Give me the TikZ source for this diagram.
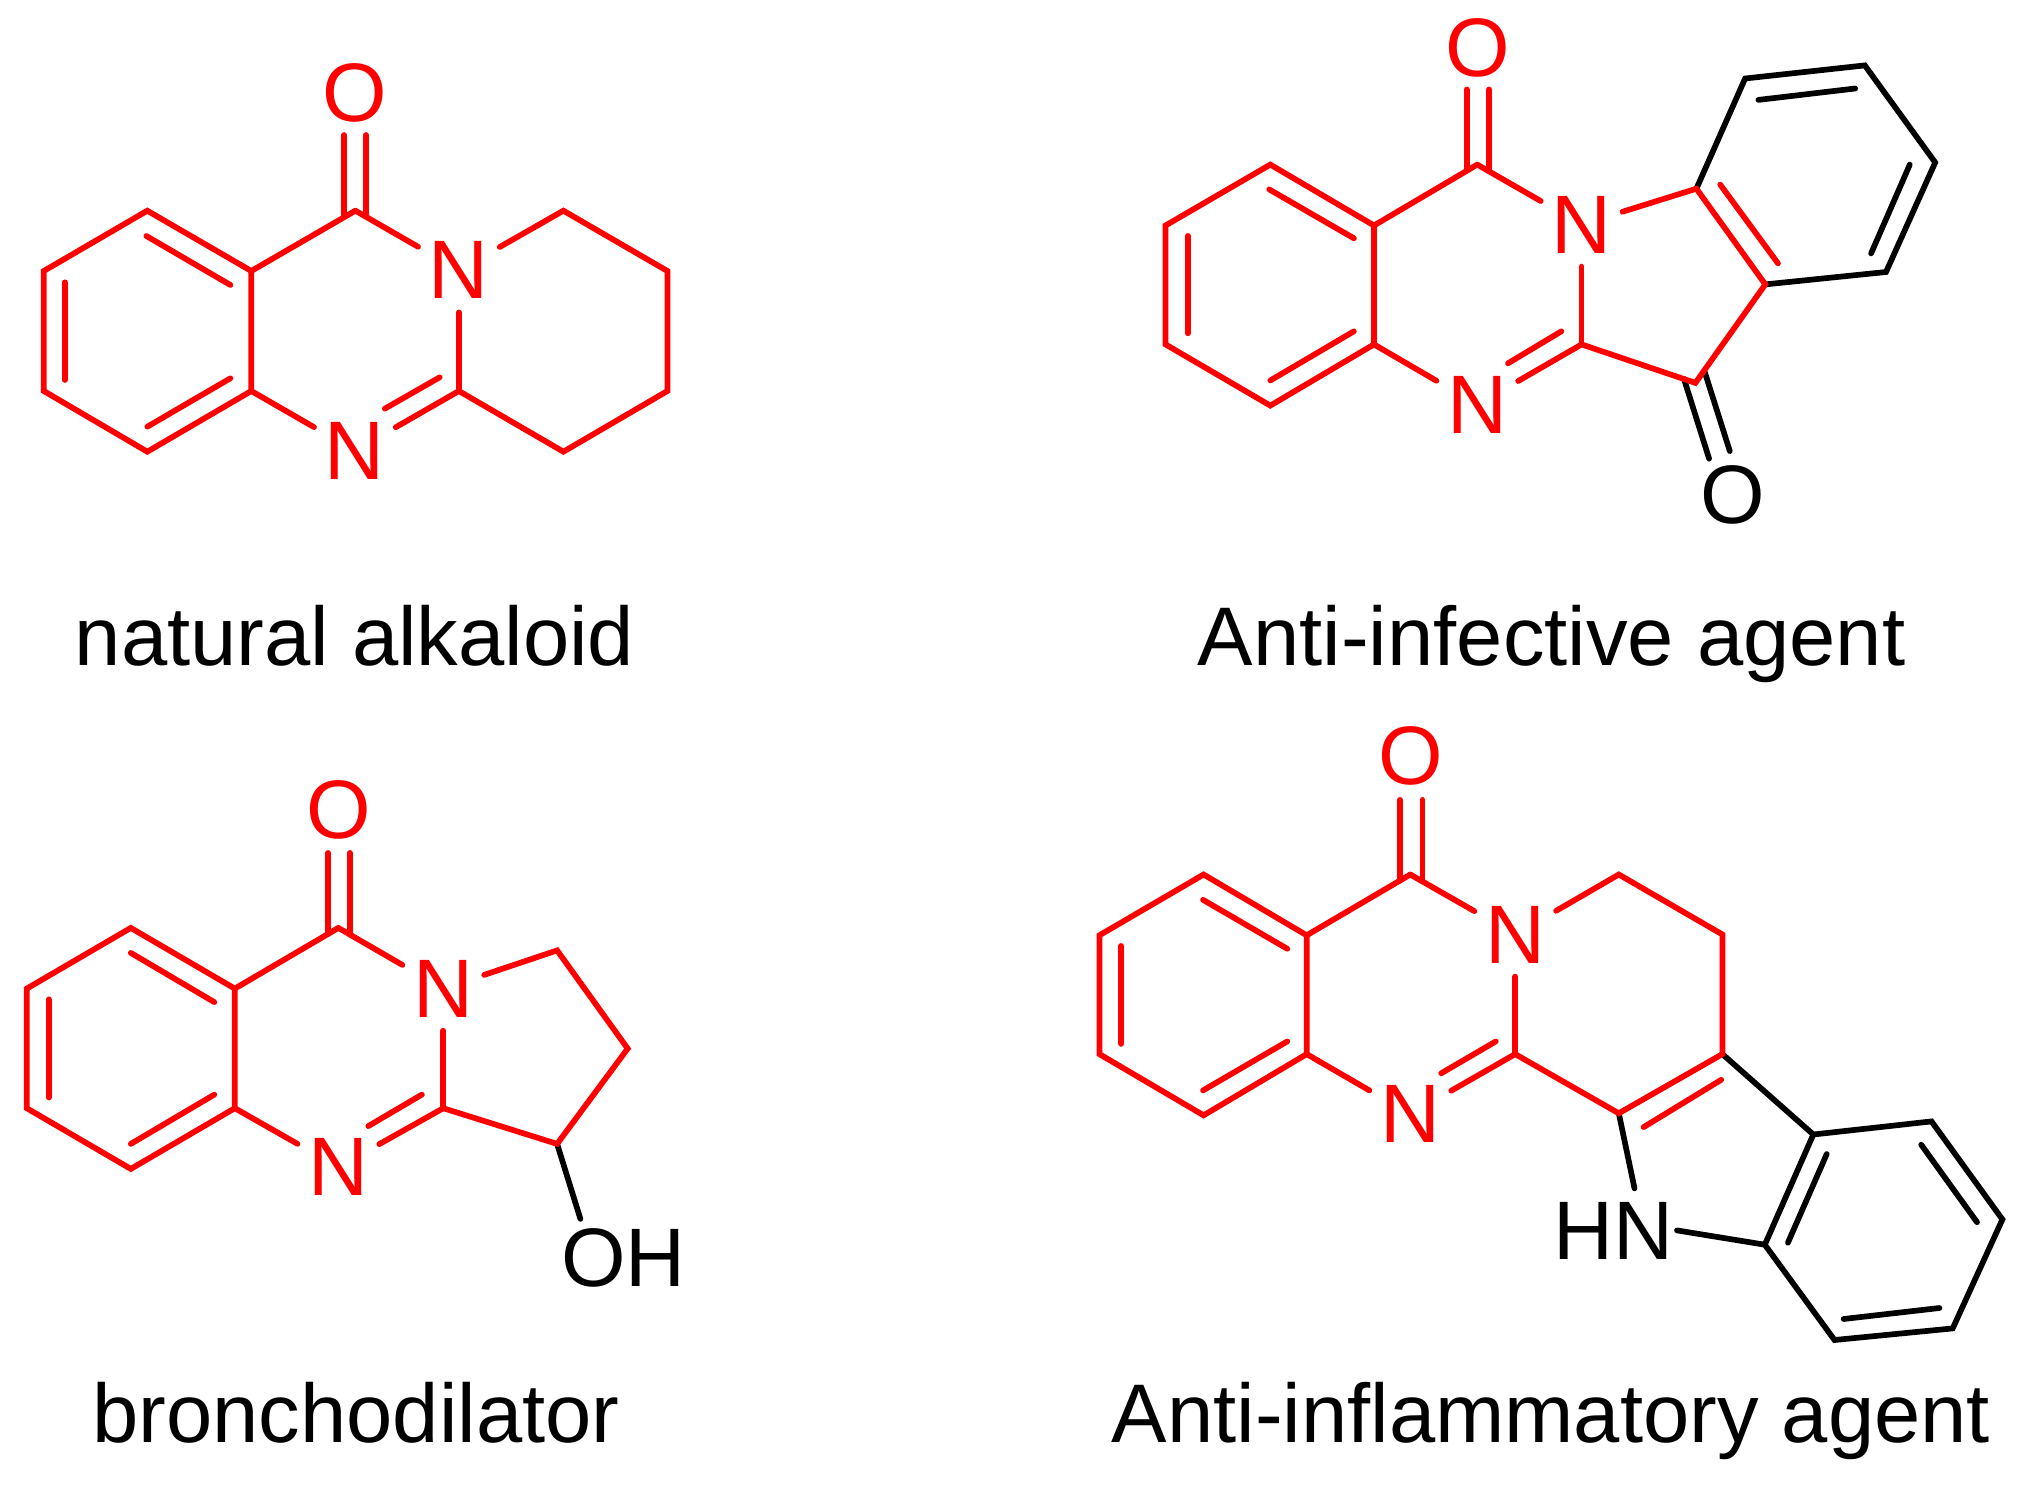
\documentclass[tikz,border=0pt]{standalone}
\usepackage{fontspec}
\setmainfont{Liberation Sans}
\tikzset{
  redbond/.style={draw=red,line width=1.62pt,line cap=round,line join=miter},
  blackbond/.style={draw=black,line width=1.62pt,line cap=round,line join=miter},
  atom/.style={inner xsep=3.1pt,inner ysep=3.85pt,outer sep=0pt,font=\fontsize{23.6}{28}\selectfont},
  caption/.style={inner sep=0pt,outer sep=0pt,anchor=base,text=black,font=\fontsize{23.65}{28}\selectfont}
}
\newcommand\ringpts[7]{\coordinate (#1a) at (#2);\coordinate (#1b) at (#3);\coordinate (#1c) at (#4);\coordinate (#1d) at (#5);\coordinate (#1e) at (#6);\coordinate (#1f) at (#7);}
\newcommand\dbline[4]{\coordinate (#2s) at (#3);\coordinate (#2t) at (#4);\draw[#1] (#2s) -- (#2t);}
\begin{document}
\begin{tikzpicture}[x=0.01cm,y=-0.01cm]
\useasboundingbox (0,0) rectangle (2030,1488);
\fill[white] (0,0) rectangle (2030,1488);

%% molecule 1: natural alkaloid
\ringpts{A}{147.3,210.7}{251.3,271}{251.3,391}{147.3,451.7}{43.8,391}{43.8,271}
\coordinate (Am) at (355.4,210.7);
\coordinate (Ak) at (458.9,391);
\coordinate (Ap) at (563.4,210.7);
\coordinate (Aq) at (667.4,271);
\coordinate (Ar) at (667.4,391);
\coordinate (Au) at (563.4,451.7);
\node[atom,text=red] (An1) at (458.9,270.3) {N};
\node[atom,text=red] (An2) at (354.9,450.7) {N};
\node[atom,text=red] (Ao) at (355,93) {O};
\draw[redbond] (Aa)--(Ab)--(Ac)--(Ad)--(Ae)--(Af)--cycle;
\draw[redbond] (Ab)--(Am);
\draw[redbond] (Am)--(An1);
\draw[redbond] (An1)--(Ap)--(Aq)--(Ar)--(Au)--(Ak);
\draw[redbond] (An1)--(Ak);
\draw[redbond] (Ak)--(An2);
\draw[redbond] (An2)--(Ac);
\dbline{redbond}{Ai1}{146.4,236}{230.4,285}
\dbline{redbond}{Ai2}{64.7,282.3}{64.7,380}
\dbline{redbond}{Ai3}{147.3,426.7}{230.4,378.3}
\dbline{redbond}{Ai4}{384.8,408.7}{439.7,377.3}
\dbline{redbond}{Ao1}{344.2,135}{344.2,216}
\dbline{redbond}{Ao2}{366.1,135}{366.1,216}
\node[caption] (Acap) at (354.7,665.4) {natural alkaloid};

%% molecule 2: Anti-infective agent
\ringpts{B}{1270.3,164.6}{1374,225.5}{1374,344.4}{1270.3,405.6}{1165.5,344.4}{1165.5,225.5}
\ringpts{C}{1696.4,188.7}{1745.1,78.5}{1864.8,65.4}{1935.2,162.5}{1886,272}{1765.3,284.4}
\coordinate (Bm) at (1477.3,164.6);
\coordinate (Bk) at (1581.6,344.4);
\coordinate (Bp) at (1695.4,382.9);
\node[atom,text=red] (Bn1) at (1581.6,224.5) {N};
\node[atom,text=red] (Bn2) at (1477.3,404.6) {N};
\node[atom,text=red] (Bo) at (1477.3,48) {O};
\node[atom,text=black] (Bo2) at (1732.4,495) {O};
\draw[blackbond] (Ca)--(Cb)--(Cc)--(Cd)--(Ce)--(Cf);
\dbline{blackbond}{Bo4}{1684,379}{1709.1,458.7}
\dbline{blackbond}{Bo5}{1704.4,371}{1729.8,451.1}
\draw[redbond] (Ba)--(Bb)--(Bc)--(Bd)--(Be)--(Bf)--cycle;
\draw[redbond] (Bb)--(Bm);
\draw[redbond] (Bm)--(Bn1);
\draw[redbond] (Bn1)--(Ca);
\draw[redbond] (Ca)--(Cf)--(Bp)--(Bk);
\draw[redbond] (Bn1)--(Bk);
\draw[redbond] (Bk)--(Bn2);
\draw[redbond] (Bn2)--(Bc);
\dbline{redbond}{Bi1}{1269.2,189.4}{1353.9,238.3}
\dbline{redbond}{Bi2}{1187.7,235.9}{1187.7,333.3}
\dbline{redbond}{Bi3}{1270.3,380.5}{1353.9,331.3}
\dbline{redbond}{Bi4}{1508,363.3}{1561.4,331.3}
\dbline{redbond}{Bi5}{1720.2,184.6}{1778,263.4}
\dbline{blackbond}{Ci1}{1758.4,99.9}{1855.2,88.5}
\dbline{blackbond}{Ci2}{1909.8,164.6}{1871.1,253.4}
\dbline{redbond}{Bo1}{1466.7,89.5}{1466.7,170}
\dbline{redbond}{Bo3}{1488.9,89.5}{1488.9,170}
\node[caption] (Bcap) at (1551.6,665.4) {Anti-infective agent};

%% molecule 3: bronchodilator
\ringpts{D}{130.8,927.9}{234.8,988.6}{234.8,1108.2}{130.8,1168.9}{26.8,1108.2}{26.8,988.6}
\coordinate (Dm) at (338.4,927.9);
\coordinate (Dk) at (443.3,1108.2);
\coordinate (Dp) at (557.1,950.4);
\coordinate (Dq) at (627.7,1048.6);
\coordinate (Dr) at (557.1,1143.9);
\node[atom,text=red] (Dn1) at (443.3,988.6) {N};
\node[atom,text=red] (Dn2) at (338.4,1167.1) {N};
\node[atom,text=red] (Do) at (338.4,810) {O};
\node[atom,text=black,inner sep=0pt] (Doh) at (623.4,1258.2) {OH};
\coordinate (Dhe) at (580.4,1218.9);
\draw[blackbond] (Dr)--(Dhe);
\draw[redbond] (Da)--(Db)--(Dc)--(Dd)--(De)--(Df)--cycle;
\draw[redbond] (Db)--(Dm);
\draw[redbond] (Dm)--(Dn1);
\draw[redbond] (Dn1)--(Dp)--(Dq)--(Dr)--(Dk);
\draw[redbond] (Dn1)--(Dk);
\draw[redbond] (Dk)--(Dn2);
\draw[redbond] (Dn2)--(Dc);
\dbline{redbond}{Di1}{130.8,952.9}{214.3,1002.1}
\dbline{redbond}{Di2}{48.7,999.3}{48.7,1097.5}
\dbline{redbond}{Di3}{130.8,1143.9}{214.3,1094.6}
\dbline{redbond}{Di4}{368.3,1126.1}{421.9,1094.6}
\dbline{redbond}{Do1}{328.1,852.9}{328.1,934}
\dbline{redbond}{Do2}{350,852.9}{350,934}
\node[caption] (Dcap) at (356,1442) {bronchodilator};

%% molecule 4: Anti-inflammatory agent
\ringpts{E}{1203.6,874.5}{1306.7,935.3}{1306.7,1054.1}{1203.6,1115.3}{1099.4,1054.1}{1099.4,935.3}
\ringpts{F}{1813.3,1134.5}{1931.5,1121.4}{2002.4,1219.4}{1952.7,1328.4}{1834.5,1340}{1764.8,1244.7}
\coordinate (Em) at (1410.3,874.5);
\coordinate (Ek) at (1515.2,1054.1);
\coordinate (Ep) at (1618.8,874.5);
\coordinate (Eq) at (1722.4,934.5);
\coordinate (Er) at (1722.4,1054.1);
\coordinate (Eu) at (1618.8,1113.3);
\node[atom,text=red] (En1) at (1515.2,934.5) {N};
\node[atom,text=red] (En2) at (1410.3,1114.1) {N};
\node[atom,text=red] (Eo) at (1410.3,756.1) {O};
\node[atom,text=black,inner sep=0pt] (Ehn) at (1613.6,1231) {HN};
\coordinate (Ehe) at (1634.5,1188.4);
\coordinate (Ehf) at (1677,1230.4);
\draw[blackbond] (Fa)--(Fb)--(Fc)--(Fd)--(Fe)--(Ff)--cycle;
\draw[blackbond] (Er)--(Fa);
\draw[blackbond] (Eu)--(Ehe);
\draw[blackbond] (Ehf)--(Ff);
\draw[redbond] (Ea)--(Eb)--(Ec)--(Ed)--(Ee)--(Ef)--cycle;
\draw[redbond] (Eb)--(Em);
\draw[redbond] (Em)--(En1);
\draw[redbond] (En1)--(Ep)--(Eq)--(Er)--(Eu)--(Ek);
\draw[redbond] (En1)--(Ek);
\draw[redbond] (Ek)--(En2);
\draw[redbond] (En2)--(Ec);
\dbline{redbond}{Ei1}{1203,899.8}{1287.3,948.8}
\dbline{redbond}{Ei2}{1121.2,945.9}{1121.2,1043.9}
\dbline{redbond}{Ei3}{1203,1090.4}{1287.3,1041.4}
\dbline{redbond}{Ei4}{1441.2,1073.3}{1495.8,1041.4}
\dbline{redbond}{Ei5}{1643.6,1127.1}{1721.2,1079.8}
\dbline{blackbond}{Fi1}{1826.7,1154.1}{1787.9,1242.7}
\dbline{blackbond}{Fi2}{1921.2,1144.7}{1977,1222.2}
\dbline{blackbond}{Fi3}{1843.6,1319}{1939.4,1308}
\dbline{redbond}{Eo1}{1400,799.8}{1400,880.6}
\dbline{redbond}{Eo2}{1422.4,799.8}{1422.4,880.6}
\node[caption] (Ecap) at (1551,1442) {Anti-inflammatory agent};
\end{tikzpicture}
\end{document}
